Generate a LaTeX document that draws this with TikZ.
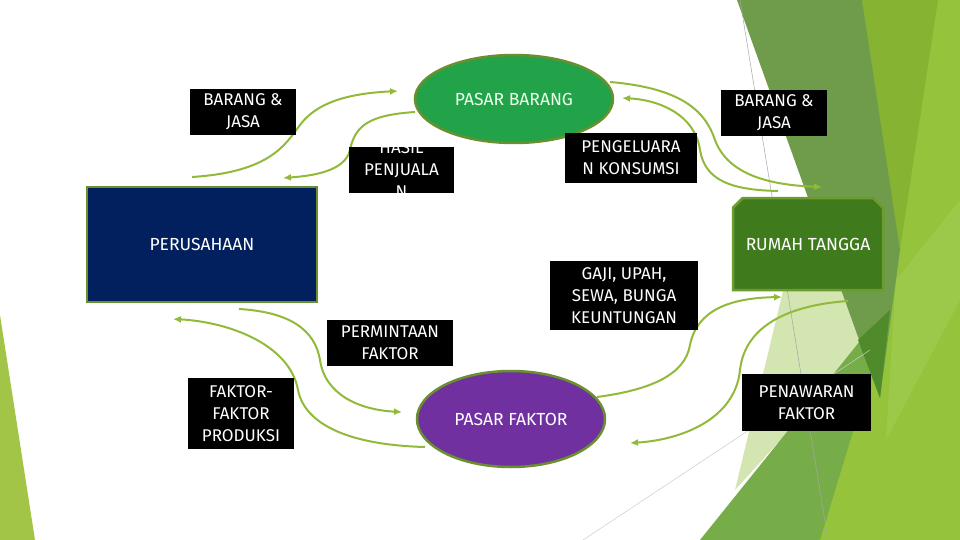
\documentclass[tikz,border=0pt]{standalone}
\usepackage{fontspec}
\setmainfont{Fira Sans}
\usetikzlibrary{arrows.meta,shapes.geometric,shapes.misc}
\definecolor{arrowgreen}{HTML}{92BA3A}
\definecolor{olivebd}{HTML}{6A8F2F}
\definecolor{pbgreen}{HTML}{22A34A}
\definecolor{navy}{HTML}{03205E}
\definecolor{rtgreen}{HTML}{3F7A1C}
\definecolor{rtbd}{HTML}{6E9B2E}
\definecolor{pfpurple}{HTML}{7030A0}
\definecolor{bgolive}{HTML}{86B332}
\definecolor{bgbright}{HTML}{95C43C}
\definecolor{bglight}{HTML}{9DC94B}
\definecolor{bgmed}{HTML}{6E9C4B}
\definecolor{bgpale}{HTML}{D3E5B0}
\definecolor{bglow}{HTML}{76AD48}
\definecolor{bgdark}{HTML}{4F8B2A}
\definecolor{bgleft}{HTML}{A2C548}
\begin{document}
\begin{tikzpicture}[x=1pt,y=-1pt,
  flow/.style={draw=arrowgreen, line width=2pt, -{Latex[length=8pt,width=7pt]}},
  lbl/.style={fill=black, text=white, font=\fontsize{17}{22}\selectfont, align=center, inner sep=0pt},
  mainfont/.style={font=\fontsize{17.5}{22}\selectfont, text=white},
  market/.style={ellipse, draw=olivebd, line width=2.5pt, inner sep=0pt, mainfont}]
\useasboundingbox (0,0) rectangle (960,540);
\fill[white] (0,0) rectangle (960,540);
% background decoration
\fill[bgbright] (862,0) -- (960,0) -- (960,540) -- (815,540) -- (893,300) -- cycle;
\fill[bgolive] (862,0) -- (938,0) -- (900,250) -- cycle;
\fill[bglight] (896,280) -- (960,200) -- (960,300) -- (886,440) -- cycle;
\fill[bgpale] (805,200) -- (880,330) -- (735,490) -- cycle;
\fill[bglow] (700,540) -- (820,540) -- (893,300) -- cycle;
\fill[bgmed] (737,0) -- (862,0) -- (900,250) -- (880,398) -- cycle;
\fill[bgdark] (858,340) -- (890,310) -- (880,398) -- cycle;
\fill[bgleft] (0,315) -- (35,540) -- (0,540) -- cycle;
\draw[gray!70, line width=0.5pt] (740,0) -- (828,540);
\draw[gray!40, line width=0.5pt] (583,540) -- (870,350);
% main nodes
\node[market, fill=pbgreen, minimum width=198pt, minimum height=88pt, text=green!8] (pb) at (514,99) {PASAR BARANG};
\node[market, fill=pfpurple, minimum width=188pt, minimum height=96pt] (pf) at (511,419) {PASAR FAKTOR};
\node[rectangle, fill=navy, draw=olivebd, line width=2.5pt, minimum width=230pt, minimum height=115pt, mainfont] (firm) at (202,244.5) {PERUSAHAAN};
\node[chamfered rectangle, chamfered rectangle corners={north west,north east}, chamfered rectangle xsep=14pt, fill=rtgreen, draw=rtbd, line width=2.5pt, minimum width=150pt, minimum height=92pt, inner sep=0pt, mainfont] (rt) at (808,244) {RUMAH TANGGA};
% flows
\coordinate (a0) at (192,177); \coordinate (a1) at (300,125); \coordinate (a2) at (398,91);
\draw[flow] (a0) .. controls (270,172) and (285,145) .. (a1) .. controls (320,98) and (360,93) .. (a2);
\coordinate (b0) at (415,112); \coordinate (b1) at (350,150); \coordinate (b2) at (283,178);
\draw[flow] (b0) .. controls (370,115) and (355,125) .. (b1) .. controls (345,172) and (310,176) .. (b2);
\coordinate (c0) at (610,82); \coordinate (c1) at (715,140); \coordinate (c2) at (822,187);
\draw[flow] (c0) .. controls (680,88) and (705,110) .. (c1) .. controls (728,175) and (770,185) .. (c2);
\coordinate (d0) at (778,191); \coordinate (d1) at (700,150); \coordinate (d2) at (622,98);
\draw[flow] (d0) .. controls (730,190) and (705,180) .. (d1) .. controls (695,115) and (660,100) .. (d2);
\coordinate (e0) at (597,397); \coordinate (e1) at (690,345); \coordinate (e2) at (782,297);
\draw[flow] (e0) .. controls (650,390) and (685,375) .. (e1) .. controls (697,310) and (730,298) .. (e2);
\coordinate (f0) at (848,301); \coordinate (f1) at (740,370); \coordinate (f2) at (630,443);
\draw[flow] (f0) .. controls (790,305) and (745,325) .. (f1) .. controls (735,420) and (680,440) .. (f2);
\coordinate (g0) at (239,309); \coordinate (g1) at (320,360); \coordinate (g2) at (402,412);
\draw[flow] (g0) .. controls (290,312) and (315,330) .. (g1) .. controls (325,395) and (360,410) .. (g2);
\coordinate (h0) at (425,447); \coordinate (h1) at (298,390); \coordinate (h2) at (173,319);
\draw[flow] (h0) .. controls (350,445) and (305,425) .. (h1) .. controls (290,345) and (230,322) .. (h2);
% labels
\node[lbl, minimum width=106pt, minimum height=46pt] (bj1) at (243,112) {BARANG \&\\JASA};
\node[lbl, minimum width=105pt, minimum height=46pt] (hasil) at (401.5,170) {};
\begin{scope}
\clip (349,147) rectangle (454,193);
\node[lbl, fill=none] (hasiltxt) at (401.5,170) {HASIL\\PENJUALA\\N};
\end{scope}
\node[lbl, minimum width=132pt, minimum height=50pt] (peng) at (631,158) {PENGELUARA\\N KONSUMSI};
\node[lbl, minimum width=106pt, minimum height=46pt] (bj2) at (774,113) {BARANG \&\\JASA};
\node[lbl, minimum width=148pt, minimum height=69pt] (gaji) at (624,295.5) {GAJI, UPAH,\\SEWA, BUNGA\\KEUNTUNGAN};
\node[lbl, minimum width=126pt, minimum height=46pt] (perm) at (390,343) {PERMINTAAN\\FAKTOR};
\node[lbl, minimum width=106pt, minimum height=71pt] (fp) at (241,413.5) {FAKTOR-\\FAKTOR\\PRODUKSI};
\node[lbl, minimum width=129pt, minimum height=57pt] (pen) at (806.5,402.5) {PENAWARAN\\FAKTOR};
\end{tikzpicture}
\end{document}
